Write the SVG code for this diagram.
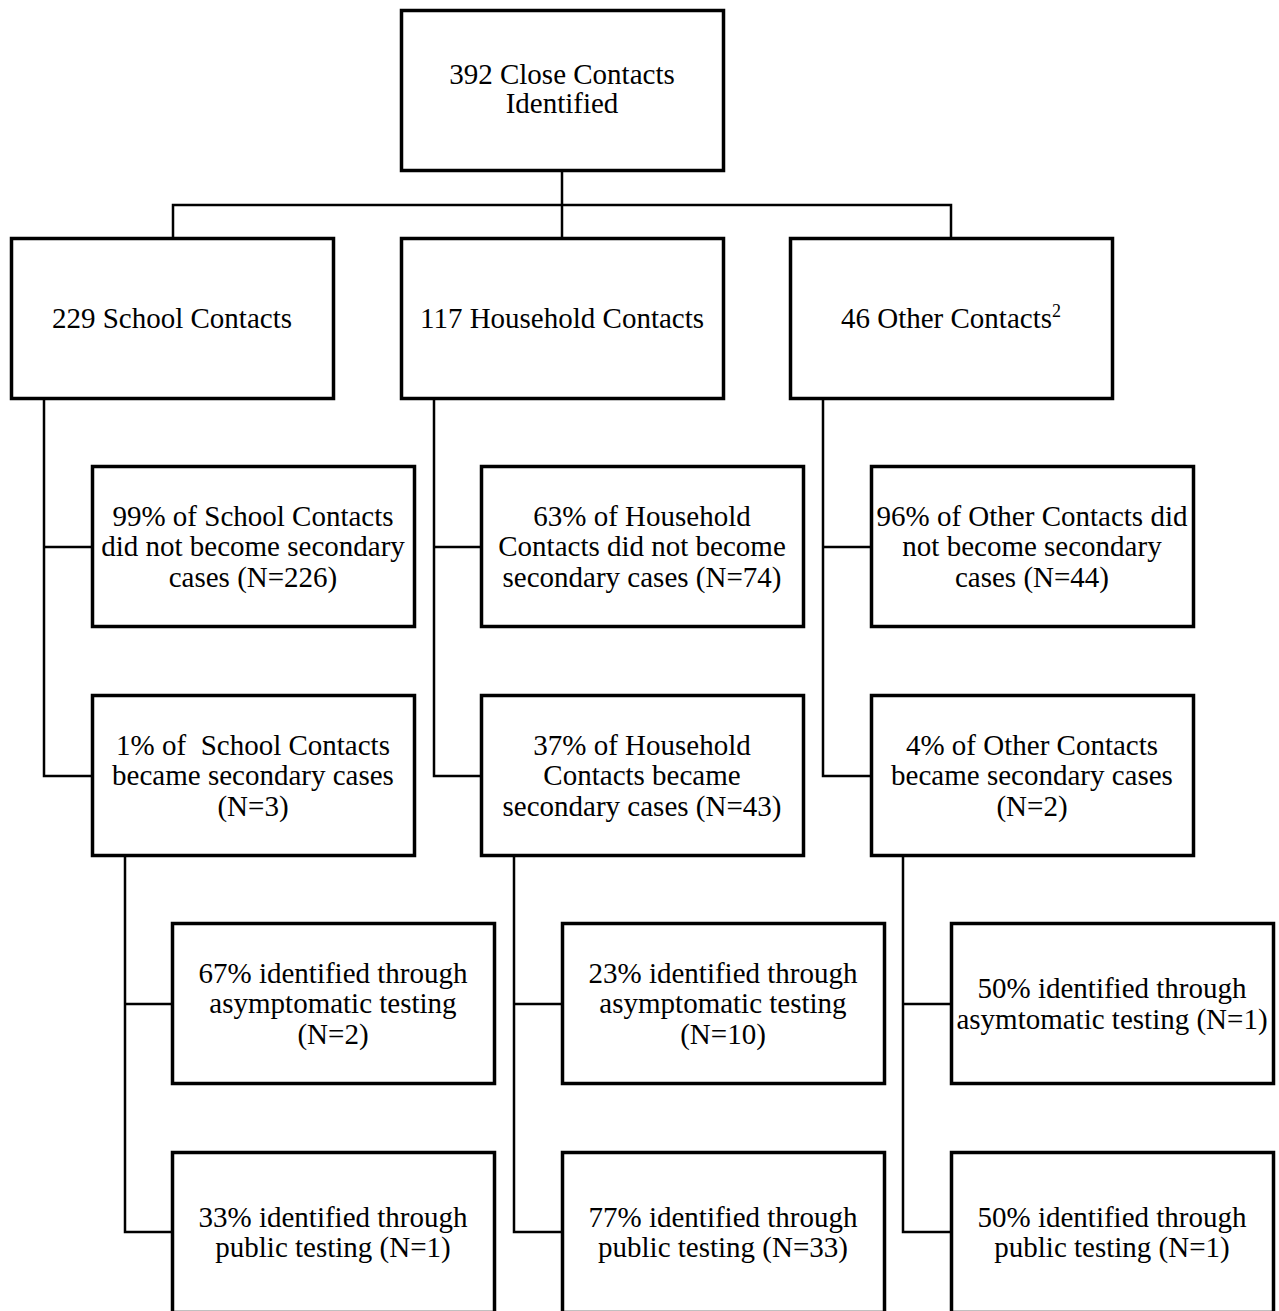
<svg xmlns="http://www.w3.org/2000/svg" width="1279" height="1311" viewBox="0 0 1279 1311">
<style>
.box{fill:#fff;stroke:#000;stroke-width:3.5}
.ln{fill:none;stroke:#000;stroke-width:2.5}
.t text{font-family:'Liberation Serif','Tinos','Nimbus Roman','Times New Roman','Times','DejaVu Serif',serif;font-size:29px;fill:#000;text-anchor:middle}
</style>
<rect width="1279" height="1311" fill="#fff"/>
<g id="connectors">
<path class="ln" d="M562 170V205M173 237V205H951V237M562 205V237"/>
<path class="ln" d="M44 398V776H92M44 547H92"/>
<path class="ln" d="M434 398V776H481M434 547H481"/>
<path class="ln" d="M823 398V776H871M823 547H871"/>
<path class="ln" d="M125 856V1232H172M125 1004H172"/>
<path class="ln" d="M514 856V1232H562M514 1004H562"/>
<path class="ln" d="M903 856V1232H951M903 1004H951"/>
</g>
<g class="t">
<g id="n0"><rect class="box" x="401.5" y="10.5" width="322" height="160"/><text x="562" y="84">392 Close Contacts</text><text x="562" y="113">Identified</text></g>
<g id="n1"><rect class="box" x="11.5" y="238.5" width="322" height="160"/><text x="172" y="328">229 School Contacts</text></g>
<g id="n2"><rect class="box" x="401.5" y="238.5" width="322" height="160"/><text x="562" y="328">117 Household Contacts</text></g>
<g id="n3"><rect class="box" x="790.5" y="238.5" width="322" height="160"/><text x="951" y="328">46 Other Contacts<tspan dy="-11" font-size="18">2</tspan></text></g>
<g id="n4"><rect class="box" x="92.5" y="466.5" width="322" height="160"/><text x="253" y="526">99% of School Contacts</text><text x="253" y="556">did not become secondary</text><text x="253" y="587">cases (N=226)</text></g>
<g id="n5"><rect class="box" x="481.5" y="466.5" width="322" height="160"/><text x="642" y="526">63% of Household</text><text x="642" y="556">Contacts did not become</text><text x="642" y="587">secondary cases (N=74)</text></g>
<g id="n6"><rect class="box" x="871.5" y="466.5" width="322" height="160"/><text x="1032" y="526">96% of Other Contacts did</text><text x="1032" y="556">not become secondary</text><text x="1032" y="587">cases (N=44)</text></g>
<g id="n7"><rect class="box" x="92.5" y="695.5" width="322" height="160"/><text x="253" y="755" xml:space="preserve">1% of  School Contacts</text><text x="253" y="785">became secondary cases</text><text x="253" y="816">(N=3)</text></g>
<g id="n8"><rect class="box" x="481.5" y="695.5" width="322" height="160"/><text x="642" y="755">37% of Household</text><text x="642" y="785">Contacts became</text><text x="642" y="816">secondary cases (N=43)</text></g>
<g id="n9"><rect class="box" x="871.5" y="695.5" width="322" height="160"/><text x="1032" y="755">4% of Other Contacts</text><text x="1032" y="785">became secondary cases</text><text x="1032" y="816">(N=2)</text></g>
<g id="n10"><rect class="box" x="172.5" y="923.5" width="322" height="160"/><text x="333" y="983">67% identified through</text><text x="333" y="1013">asymptomatic testing</text><text x="333" y="1044">(N=2)</text></g>
<g id="n11"><rect class="box" x="562.5" y="923.5" width="322" height="160"/><text x="723" y="983">23% identified through</text><text x="723" y="1013">asymptomatic testing</text><text x="723" y="1044">(N=10)</text></g>
<g id="n12"><rect class="box" x="951.5" y="923.5" width="322" height="160"/><text x="1112" y="998">50% identified through</text><text x="1112" y="1029">asymtomatic testing (N=1)</text></g>
<g id="n13"><rect class="box" x="172.5" y="1152.5" width="322" height="160"/><text x="333" y="1227">33% identified through</text><text x="333" y="1257">public testing (N=1)</text></g>
<g id="n14"><rect class="box" x="562.5" y="1152.5" width="322" height="160"/><text x="723" y="1227">77% identified through</text><text x="723" y="1257">public testing (N=33)</text></g>
<g id="n15"><rect class="box" x="951.5" y="1152.5" width="322" height="160"/><text x="1112" y="1227">50% identified through</text><text x="1112" y="1257">public testing (N=1)</text></g>
</g>
</svg>
